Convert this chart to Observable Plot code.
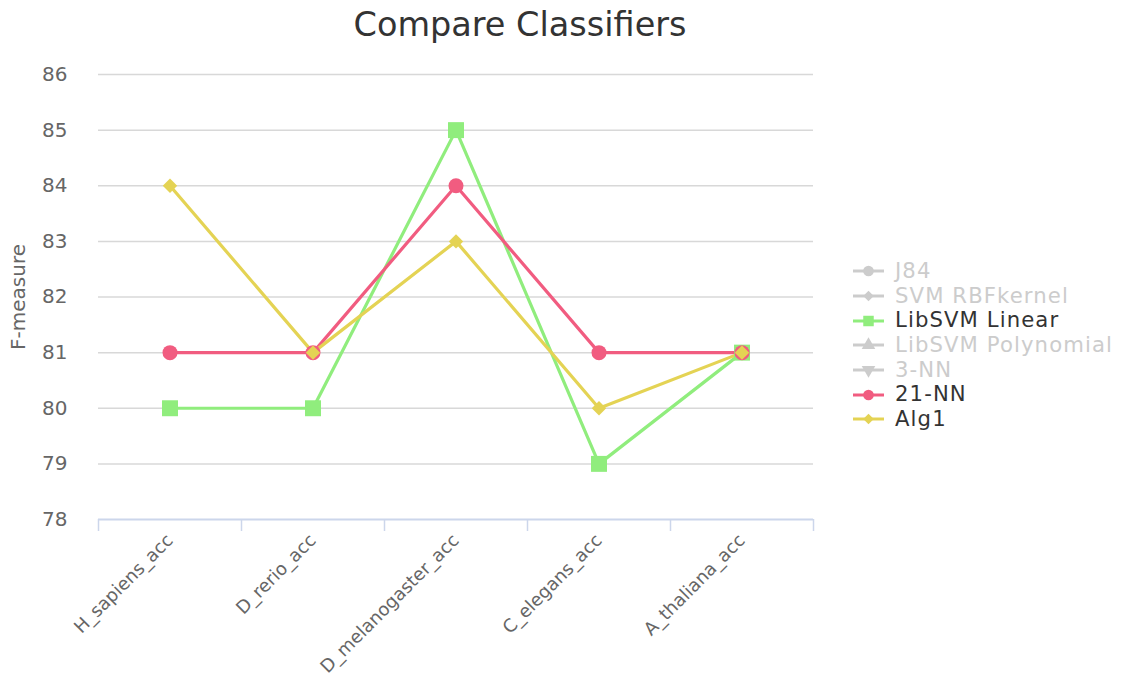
<!DOCTYPE html>
<html>
<head>
<meta charset="utf-8">
<script src="https://cdn.jsdelivr.net/npm/d3@7"></script>
<script src="https://cdn.jsdelivr.net/npm/@observablehq/plot@0.6"></script>
<style>
  html, body { margin: 0; padding: 0; background: #fff; }
  #wrap { position: relative; width: 1122px; height: 682px; font-family: "DejaVu Sans", sans-serif; }
  #title { width: 1040px; height: 50px; line-height: 50px; text-align: center; font-size: 33.5px; color: #333; }
  #legend { position: absolute; left: 853px; top: 259px; }
  .item { display: flex; align-items: center; height: 24.7px; white-space: nowrap; }
  .item svg { margin-right: 11px; flex: none; }
  .item span { display: block; font-size: 21.2px; letter-spacing: 1.1px; line-height: 24.7px; }
</style>
</head>
<body>
<div id="wrap">
  <div id="title">Compare Classifiers</div>
  <div id="chart"></div>
  <div id="legend"></div>
</div>
<script>
const categories = ["H_sapiens_acc", "D_rerio_acc", "D_melanogaster_acc", "C_elegans_acc", "A_thaliana_acc"];
const libsvmLinear = [80, 80, 85, 79, 81];
const nn21 = [81, 81, 84, 81, 81];
const alg1 = [84, 81, 83, 80, 81];
const yTicks = [78, 79, 80, 81, 82, 83, 84, 85, 86];

const legendItems = [
  {name: "J84", symbol: "circle", color: "#cccccc", text: "#cccccc"},
  {name: "SVM RBFkernel", symbol: "diamond", color: "#cccccc", text: "#cccccc"},
  {name: "LibSVM Linear", symbol: "square", color: "#90ed7d", text: "#333333"},
  {name: "LibSVM Polynomial", symbol: "triangle", color: "#cccccc", text: "#cccccc"},
  {name: "3-NN", symbol: "triangle-down", color: "#cccccc", text: "#cccccc"},
  {name: "21-NN", symbol: "circle", color: "#f15c80", text: "#333333"},
  {name: "Alg1", symbol: "diamond", color: "#e4d354", text: "#333333"}
];

const seriesDefs = [
  {name: "LibSVM Linear", values: libsvmLinear, color: "#90ed7d", symbol: "square", r: 9},
  {name: "21-NN", values: nn21, color: "#f15c80", symbol: "circle", r: 7.5},
  {name: "Alg1", values: alg1, color: "#e4d354", symbol: "diamond2", r: 6.5}
];

const W = 1122, H = 632;
const mL = 98, mR = 309, mT = 24, mB = 163;
const bw = (W - mL - mR) / categories.length;

const marks = [
  Plot.gridY(yTicks.slice(1), {stroke: "#d8d8d8", strokeOpacity: 1, strokeWidth: 1.5}),
  Plot.ruleY([yTicks[0]], {stroke: "#ccd6eb", strokeWidth: 2}),
  Plot.ruleX(categories, {x: d => d, y1: yTicks[0], y2: yTicks[0], insetBottom: -12, dx: -bw / 2, stroke: "#ccd6eb", strokeWidth: 1.5}),
  Plot.ruleX(categories.slice(-1), {x: d => d, y1: yTicks[0], y2: yTicks[0], insetBottom: -12, dx: bw / 2, stroke: "#ccd6eb", strokeWidth: 1.5}),
  Plot.axisY({ticks: yTicks, tickSize: 0, tickPadding: 31, fontSize: 20, color: "#666", label: null}),
  Plot.axisX({tickRotate: -45, tickSize: 0, tickPadding: 18, fontSize: 18, color: "#666", label: null}),
  Plot.text(["F-measure"], {frameAnchor: "left", dx: -80, rotate: -90, textAnchor: "middle", fontSize: 20, fill: "#666"})
];

for (const s of seriesDefs) {
  const rows = categories.map((c, i) => ({cat: c, value: s.values[i]}));
  marks.push(Plot.line(rows, {x: "cat", y: "value", stroke: s.color, strokeWidth: 3.2}));
}
for (const s of seriesDefs) {
  const rows = categories.map((c, i) => ({cat: c, value: s.values[i]}));
  marks.push(Plot.dot(rows, {x: "cat", y: "value", fill: s.color, stroke: "none", symbol: s.symbol, r: s.r}));
}

const chart = Plot.plot({
  width: W, height: H,
  marginLeft: mL, marginRight: mR, marginTop: mT, marginBottom: mB,
  style: {fontFamily: "DejaVu Sans, sans-serif", background: "#fff", overflow: "visible"},
  x: {type: "band", domain: categories, padding: 0, axis: null},
  y: {domain: [yTicks[0], yTicks[yTicks.length - 1]], axis: null},
  marks
});
document.getElementById("chart").appendChild(chart);

const legend = d3.select("#legend");
const symMap = {circle: d3.symbolCircle, diamond: d3.symbolDiamond2, square: d3.symbolSquare, triangle: d3.symbolTriangle, "triangle-down": d3.symbolTriangle};
for (const it of legendItems) {
  const row = legend.append("div").attr("class", "item");
  const svg = row.append("svg").attr("width", 31).attr("height", 20);
  svg.append("line").attr("x1", 0).attr("x2", 31).attr("y1", 10).attr("y2", 10).attr("stroke", it.color).attr("stroke-width", 3);
  const sizes = {circle: 90, diamond: 70, square: 110, triangle: 80, "triangle-down": 80};
  svg.append("path").attr("d", d3.symbol(symMap[it.symbol], sizes[it.symbol])())
    .attr("transform", `translate(15.5,10)${it.symbol === "triangle-down" ? " rotate(180)" : ""}`)
    .attr("fill", it.color);
  row.append("span").style("color", it.text).text(it.name);
}
</script>
</body>
</html>
